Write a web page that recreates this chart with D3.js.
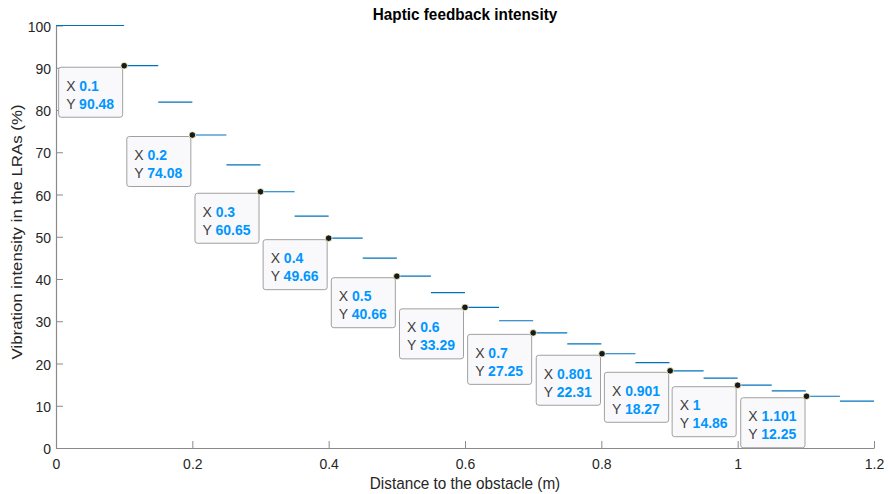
<!DOCTYPE html>
<html>
<head>
<meta charset="utf-8">
<script src="https://cdn.jsdelivr.net/npm/d3@7"></script>
<style>
  body { margin: 0; background: #fff; }
  svg { display: block; font-family: "Liberation Sans", Arial, Helvetica, sans-serif; }
</style>
</head>
<body>
<svg id="chart" width="889" height="494"></svg>
<script>
// step edges (m) and the intensity level held on each step (%)
var edges = [0, 0.1, 0.15, 0.2, 0.25, 0.3, 0.35, 0.4, 0.45, 0.5, 0.55, 0.6, 0.65,
             0.7, 0.75, 0.8, 0.85, 0.9, 0.95, 1.0, 1.05, 1.1, 1.15, 1.2];
var levels = [100, 90.48, 81.87, 74.08, 67.03, 60.65, 54.88, 49.66, 44.93, 40.66,
              36.79, 33.29, 30.12, 27.25, 24.66, 22.31, 20.19, 18.27, 16.53, 14.86,
              13.53, 12.25, 11.08];

// data tips shown on the figure
var tipX = ["0.1", "0.2", "0.3", "0.4", "0.5", "0.6", "0.7", "0.801", "0.901", "1", "1.101"];
var tipY = ["90.48", "74.08", "60.65", "49.66", "40.66", "33.29", "27.25", "22.31", "18.27", "14.86", "12.25"];

var xTicks = [0, 0.2, 0.4, 0.6, 0.8, 1, 1.2];
var yTicks = [0, 10, 20, 30, 40, 50, 60, 70, 80, 90, 100];

var svg = d3.select("#chart");
// "top" is a window property, so other names here
var mLeft = 56, mRight = 874, mTop = 25.5, mBottom = 448;
var SY = 1.1; // the figure's text looks a bit stretched vertically

var x = d3.scaleLinear().domain([0, 1.2]).range([mLeft, mRight]);
var y = d3.scaleLinear().domain([0, 100]).range([mBottom, mTop]);

// axes (MATLAB style, ticks pointing inward)
var xAxis = d3.axisBottom(x).tickValues(xTicks).tickSizeInner(-7).tickSizeOuter(0)
  .tickFormat(function(d){ return String(+d.toFixed(1)); });
var yAxis = d3.axisLeft(y).tickValues(yTicks).tickSizeInner(-7).tickSizeOuter(0).tickPadding(5);

var gx = svg.append("g").attr("transform", "translate(0," + mBottom + ")").call(xAxis);
var gy = svg.append("g").attr("transform", "translate(" + mLeft + ",0)").call(yAxis);
[gx, gy].forEach(function(g){
  g.selectAll("path").attr("stroke", "#8a8a8a").attr("stroke-width", 1.2);
  g.selectAll("line").attr("stroke", "#8a8a8a").attr("stroke-width", 1);
  g.selectAll("text").attr("fill", "#262626").attr("font-size", 14)
    .attr("font-family", "'Liberation Sans', Arial, Helvetica, sans-serif")
    .attr("transform", "scale(1," + SY + ")");
});
gx.selectAll("text").attr("y", 21.5 / SY).attr("dy", 0);
gy.selectAll("text").attr("dy", "0.36em");

// horizontal step segments
svg.append("g").selectAll("line.step")
  .data(levels)
  .enter().append("line")
  .attr("class", "step")
  .attr("x1", function(d, i){ return x(edges[i]); })
  .attr("x2", function(d, i){ return x(edges[i + 1]); })
  .attr("y1", function(d){ return y(d); })
  .attr("y2", function(d){ return y(d); })
  .attr("stroke", "#0072bd")
  .attr("stroke-width", 1.2);

// data tips
var tips = svg.append("g").selectAll("g.tip")
  .data(tipX.map(function(d, i){ return { x: +d, y: +tipY[i], xs: d, ys: tipY[i] }; }))
  .enter().append("g").attr("class", "tip");

tips.each(function(d){
  var g = d3.select(this);
  var px = x(d.x), py = y(d.y);
  var box = g.append("rect");
  var t1 = g.append("text").attr("font-size", 14);
  t1.append("tspan").attr("fill", "#404040").text("X ");
  t1.append("tspan").attr("fill", "#0096ff").attr("font-weight", "bold").text(d.xs);
  var t2 = g.append("text").attr("font-size", 14);
  t2.append("tspan").attr("fill", "#404040").text("Y ");
  t2.append("tspan").attr("fill", "#0096ff").attr("font-weight", "bold").text(d.ys);
  var w = Math.max(t1.node().getComputedTextLength(), t2.node().getComputedTextLength()) + 16;
  var bx = px - 1.5 - w, by = py + 1.5;
  box.attr("x", bx).attr("y", by).attr("width", w).attr("height", 50)
    .attr("rx", 2.5).attr("fill", "#f9f9fc").attr("stroke", "#a0a0a0").attr("stroke-width", 1);
  t1.attr("transform", "translate(" + (bx + 7.5) + "," + (by + 23.5) + ") scale(1," + SY + ")");
  t2.attr("transform", "translate(" + (bx + 7.5) + "," + (by + 41.5) + ") scale(1," + SY + ")");
  g.append("circle").attr("cx", px).attr("cy", py).attr("r", 3.3)
    .attr("fill", "#1a1a1a").attr("stroke", "#ffffcc").attr("stroke-width", 0.8);
});

// labels
svg.append("text")
  .attr("transform", "translate(" + (mLeft + mRight) / 2 + ",20) scale(1," + SY + ")")
  .attr("text-anchor", "middle").attr("font-size", 15.3).attr("font-weight", "bold")
  .attr("fill", "#000").text("Haptic feedback intensity");
svg.append("text")
  .attr("transform", "translate(" + (mLeft + mRight) / 2 + ",488.5) scale(1," + SY + ")")
  .attr("text-anchor", "middle").attr("font-size", 15.3).attr("fill", "#262626")
  .text("Distance to the obstacle (m)");
svg.append("text")
  .attr("transform", "translate(21.5,232) scale(1," + SY + ") rotate(-90)")
  .attr("text-anchor", "middle").attr("font-size", 15.3).attr("fill", "#262626")
  .text("Vibration intensity in the LRAs (%)");
</script>
</body>
</html>
